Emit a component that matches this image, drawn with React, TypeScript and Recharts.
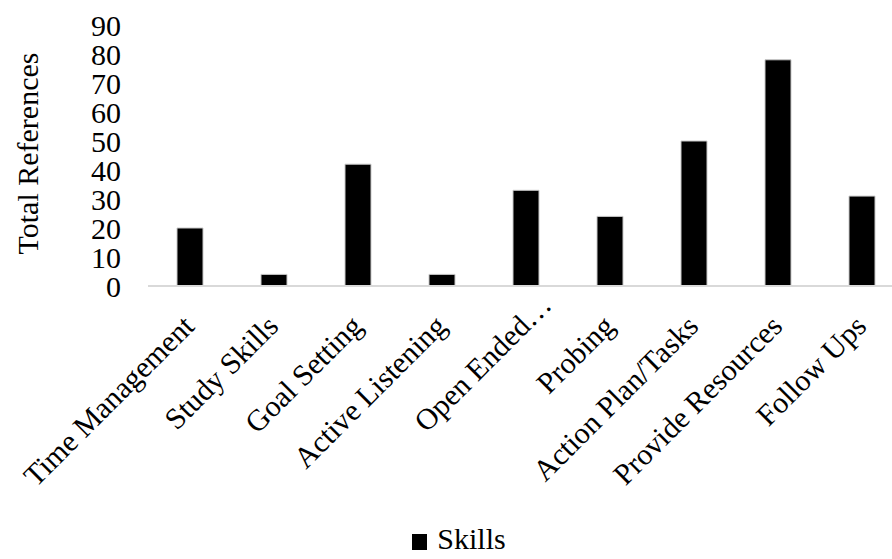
import React from 'react';
import { BarChart, Bar, XAxis, YAxis, Legend } from 'recharts';

// Skills coded in the transcripts and how often each was referenced
const CATEGORIES = [
  'Time Management',
  'Study Skills',
  'Goal Setting',
  'Active Listening',
  'Open Ended…',
  'Probing',
  'Action Plan/Tasks',
  'Provide Resources',
  'Follow Ups',
];
const SKILLS = [20, 4, 42, 4, 33, 24, 50, 78, 31];
const Y_TICKS = [0, 10, 20, 30, 40, 50, 60, 70, 80, 90];
const SERIES_NAME = 'Skills';

const FONT = '"Liberation Serif", "Times New Roman", serif';

const data = CATEGORIES.map((name, i) => ({ name, skills: SKILLS[i] }));

// rotated category label; a trailing ellipsis hangs past the anchor like Excel does
const AngledTick = (props: any) => {
  const { x, y, payload } = props;
  const label: string = payload.value;
  const cut = label.endsWith('…');
  const main = cut ? label.slice(0, -1) : label;
  const tf = `translate(${x + 6},${y + 42}) rotate(-45)`;
  return (
    <g>
      <text transform={tf} textAnchor="end" fontFamily={FONT} fontSize={30} fill="#000">
        {main}
      </text>
      {cut && (
        <text transform={tf} textAnchor="start" fontFamily={FONT} fontSize={30} fill="#000">
          …
        </text>
      )}
    </g>
  );
};

const YTitle = (props: any) => {
  const { viewBox } = props;
  const cy = viewBox.y + viewBox.height / 2 - 2;
  return (
    <text
      transform={`translate(38,${cy}) rotate(-90)`}
      textAnchor="middle"
      fontFamily={FONT}
      fontSize={30}
      fill="#000"
    >
      Total References
    </text>
  );
};

const LegendBox = () => (
  <div
    style={{
      display: 'flex',
      alignItems: 'center',
      justifyContent: 'center',
      paddingLeft: 26,
      height: 40,
      fontFamily: FONT,
      fontSize: 30,
      lineHeight: '30px',
      color: '#000',
    }}
  >
    <span style={{ display: 'inline-block', width: 15, height: 16, background: '#000', marginRight: 10, marginTop: 6 }} />
    <span>{SERIES_NAME}</span>
  </div>
);

export default function App() {
  return (
    <div style={{ position: 'absolute', left: 0, top: 0, width: 892, height: 559, overflow: 'hidden', background: '#fff' }}>
      <BarChart
        width={920}
        height={559}
        data={data}
        margin={{ top: 25, right: 16, bottom: 0, left: 0 }}
        barCategoryGap={0}
      >
        <XAxis
          dataKey="name"
          interval={0}
          tickLine={false}
          tickSize={0}
          tickMargin={0}
          height={233}
          axisLine={{ stroke: '#d9d9d9', strokeWidth: 2 }}
          tick={<AngledTick />}
        />
        <YAxis
          type="number"
          domain={[0, 90]}
          ticks={Y_TICKS}
          interval={0}
          width={148}
          axisLine={false}
          tickLine={false}
          tickSize={0}
          tickMargin={27}
          tick={{ fontFamily: FONT, fontSize: 30, fill: '#000' }}
          label={<YTitle />}
        />
        <Legend
          verticalAlign="bottom"
          content={<LegendBox />}
          wrapperStyle={{ left: 0, width: 892, height: 40 }}
        />
        <Bar
          dataKey="skills"
          name={SERIES_NAME}
          fill="#000"
          stroke="#c8c8c8"
          strokeWidth={1}
          barSize={26}
          isAnimationActive={false}
        />
      </BarChart>
    </div>
  );
}
